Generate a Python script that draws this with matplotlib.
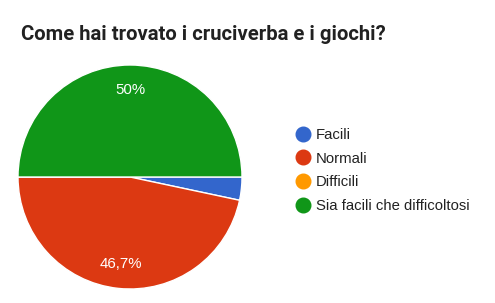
import matplotlib.pyplot as plt
from matplotlib.lines import Line2D
import numpy as np

# risposte al sondaggio
categories = ['Facili', 'Normali', 'Difficili', 'Sia facili che difficoltosi']
counts = [1, 14, 0, 15]
pct_labels = ['', '46,7%', '', '50%']
colors = ['#3366cc', '#dc3912', '#ff9900', '#109618']
title = 'Come hai trovato i cruciverba e i giochi?'

W, H = 495, 303
fig = plt.figure(figsize=(W / 100, H / 100), dpi=100)
fig.patch.set_facecolor('white')

# pie box in pixels: x 18..242, y 65..289
lim = 1.02
r_px = 112
side = 2 * r_px * lim
cx, cy = 130, 177
ax = fig.add_axes([(cx - side / 2) / W, (H - cy - side / 2) / H, side / W, side / H])

wedges, _ = ax.pie(counts, colors=colors, startangle=0, counterclock=False,
                   radius=1, wedgeprops=dict(edgecolor='white', linewidth=1.0))
ax.set_xlim(-lim, lim)
ax.set_ylim(-lim, lim)
ax.set_aspect('equal')
ax.axis('off')

# percent labels at the middle of each wedge
for w, lab in zip(wedges, pct_labels):
    if not lab:
        continue
    ang = np.deg2rad((w.theta1 + w.theta2) / 2)
    ax.text(0.78 * np.cos(ang), 0.78 * np.sin(ang), lab, color='white',
            ha='center', va='center', fontsize=10.8, family='Liberation Sans')

fig.text(21 / W, 1 - 34 / H, title, ha='left', va='center', fontsize=14.6,
         fontweight='bold', family='Roboto', color='#212121')

handles = [Line2D([], [], marker='o', linestyle='', markersize=10.5,
                  markerfacecolor=c, markeredgecolor=c) for c in colors]
leg = fig.legend(handles, categories, loc='center left',
                 bbox_to_anchor=(287 / W, 1 - 170.5 / H), frameon=False,
                 prop={'family': 'Liberation Sans', 'size': 10.7},
                 labelspacing=0.66, handletextpad=0.25, handlelength=1.2,
                 borderpad=0)
for t in leg.get_texts():
    t.set_color('#222222')

fig.savefig('out.png', dpi=100, facecolor='white')
